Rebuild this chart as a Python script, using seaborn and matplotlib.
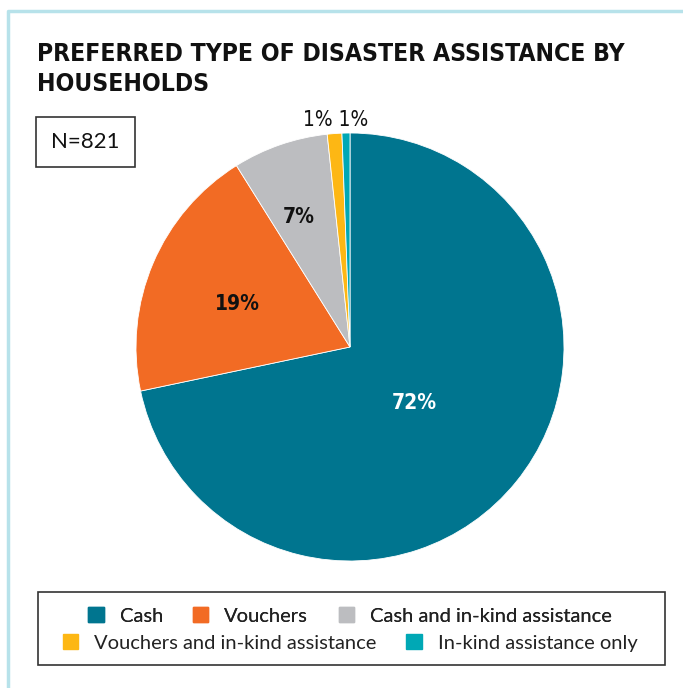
import numpy as np
import matplotlib.pyplot as plt
import matplotlib.patches as mpatches
from matplotlib.lines import Line2D
from matplotlib import font_manager as fm
import seaborn as sns

# data
categories = ["Cash", "Vouchers", "Cash and in-kind assistance",
              "Vouchers and in-kind assistance", "In-kind assistance only"]
shares = [71.7, 19.4, 7.2, 1.1, 0.6]
pct_labels = ["72%", "19%", "7%", "1%", "1%"]
colors = ["#00758f", "#f26b24", "#bcbdc0", "#fdb714", "#00a8b5"]
n_total = 821
title = "PREFERRED TYPE OF DISASTER ASSISTANCE BY\nHOUSEHOLDS"

sns.set_theme(style="white")
plt.rcParams['font.family'] = ['Lato', 'DejaVu Sans']


# look for a condensed face (the original uses a narrow display font)
def find_narrow(bold):
    best = None
    for f in fm.fontManager.ttflist:
        nm = f.name.lower()
        narrow = ("narrow" in nm or "condensed" in nm or
                  f.stretch in ("condensed", "semi-condensed", "extra-condensed"))
        if not narrow or f.style != "normal":
            continue
        isbold = f.weight in ("bold", 700)
        if isbold == bold:
            return fm.FontProperties(fname=f.fname)
        if best is None:
            best = f
    if best is not None:
        return fm.FontProperties(fname=best.fname)
    return fm.FontProperties(family="Roboto", weight="bold" if bold else "normal")


fp_bold = find_narrow(True)
fp_reg = find_narrow(False)

W, H = 683, 688
fig = plt.figure(figsize=(W / 100, H / 100), dpi=100)
fig.patch.set_facecolor("white")


def fx(px):
    return px / W


def fy(py):
    return 1 - py / H


# light blue frame (top and left edges)
fig.add_artist(Line2D([fx(8), fx(8), 1], [0, fy(11), fy(11)],
                      color="#b7e2ea", lw=2.5, transform=fig.transFigure))

tfp = fp_bold.copy()
tfp.set_size(25)
# size the title so its first line is about as wide as in the original
rend = fig.canvas.get_renderer()
probe = fig.text(0, 0, title.split("\n")[0], fontproperties=tfp)
wpx = probe.get_window_extent(rend).width
probe.remove()
tfp.set_size(min(25 * 590 / wpx, 30))
fig.text(fx(37), fy(42), title, fontproperties=tfp, va="top", ha="left",
         linespacing=1.3, color="#111111")

# N box
fig.text(fx(85.5), fy(142), "N=%d" % n_total, fontsize=16, ha="center", va="center",
         color="#111111",
         bbox=dict(boxstyle="square,pad=0.68", fc="white", ec="#333333", lw=1.2))

r = 214
cx, cy = 350, 347
ax = fig.add_axes([fx(cx - r), fy(cy + r), 2 * r / W, 2 * r / H])
pal = sns.color_palette(colors)
wedges, _ = ax.pie(shares, colors=pal, startangle=90, counterclock=False,
                   wedgeprops=dict(edgecolor="white", linewidth=0.6))
ax.set_aspect("equal")
ax.set_xlim(-1, 1)
ax.set_ylim(-1, 1)
ax.axis("off")

lfp = fp_bold.copy()
lfp.set_size(15)
label_r = [0.385, 0.57, 0.67]
label_shift = [0, 0, 2.0]
label_c = ["white", "#111111", "#111111"]
for w, lab, rr, sh, c in zip(wedges[:3], pct_labels[:3], label_r, label_shift, label_c):
    ang = np.deg2rad((w.theta1 + w.theta2) / 2 + sh)
    ax.text(rr * np.cos(ang), rr * np.sin(ang) - 0.02, lab, fontproperties=lfp,
            ha="center", va="center", color=c)
sfp = fp_reg.copy()
sfp.set_size(15)
ax.text(-0.065, 1.012, pct_labels[3] + " " + pct_labels[4], fontproperties=sfp,
        ha="center", va="bottom", color="#111111")

# legend box with two centred rows
fig.add_artist(mpatches.Rectangle((fx(38), fy(665)), fx(665) - fx(38), fy(592) - fy(665),
                                  fill=False, ec="#333333", lw=1.2,
                                  transform=fig.transFigure))
handles = [mpatches.Patch(color=c) for c in pal]
leg_kw = dict(frameon=False, fontsize=14.5, handlelength=0.75, handleheight=0.75,
              handletextpad=0.8, columnspacing=1.5, borderaxespad=0,
              labelcolor="#222222")
leg1 = fig.legend(handles[:3], categories[:3], ncol=3, loc="center",
                  bbox_to_anchor=(fx(350), fy(616)), **leg_kw)
fig.add_artist(leg1)
fig.legend(handles[3:], categories[3:], ncol=2, loc="center",
           bbox_to_anchor=(fx(350), fy(643)), **leg_kw)

fig.savefig("out.png", dpi=100)
